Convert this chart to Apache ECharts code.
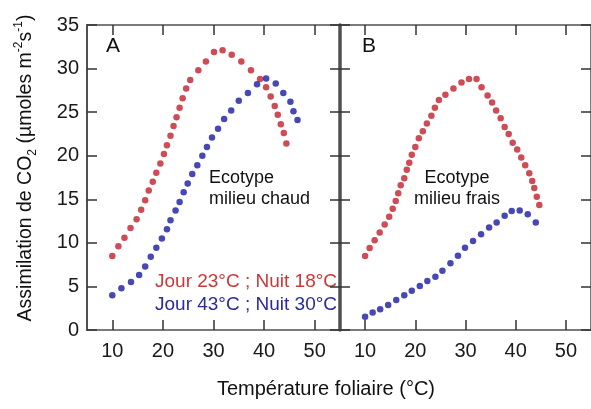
<!DOCTYPE html>
<html><head><meta charset="utf-8">
<script src="https://cdn.jsdelivr.net/npm/echarts@6/dist/echarts.min.js"></script>
<style>html,body{margin:0;padding:0;background:#fff}#c{width:591px;height:409px}</style>
</head><body><div id="c"></div>
<script>
// ---- data ----
const xTicks = [10, 20, 30, 40, 50];
const aRedT = [10.0,11.2,12.4,13.6,14.8,15.7,16.5,17.2,18.0,18.7,19.5,20.2,20.8,21.5,22.1,22.7,23.3,23.9,24.6,25.4,27.0,28.5,30.1,31.8,33.6,35.5,37.4,39.2,40.4,41.3,42.1,42.7,43.3,43.9,44.4];
const aRedV = [8.5,9.6,10.6,11.7,12.7,13.8,14.9,16.0,17.0,18.05,19.1,20.2,21.2,22.3,23.4,24.4,25.5,26.6,27.7,28.7,29.8,30.8,31.9,32.1,31.6,30.8,29.8,28.8,27.85,26.8,25.7,24.7,23.6,22.6,21.4];
const aBlueT = [10.0,11.8,13.7,15.3,16.5,17.6,18.7,19.8,20.8,21.5,22.5,23.3,24.1,24.9,25.8,26.8,27.8,28.7,29.7,30.9,32.1,33.5,35.0,36.8,38.6,40.4,42.3,43.8,45.2,45.8,46.6];
const aBlueV = [4.0,4.8,5.5,6.3,7.3,8.4,9.45,10.5,11.55,12.6,13.7,14.7,15.8,16.8,17.9,18.9,20.0,21.0,22.1,23.1,24.2,25.2,26.3,27.2,28.2,28.85,28.3,27.2,26.2,25.1,24.1];
const bRedT = [10.0,10.9,11.9,12.9,13.9,14.8,15.5,16.1,16.6,17.1,17.8,18.3,18.8,19.3,20.0,20.7,21.5,22.3,23.2,23.9,24.7,26.0,27.6,29.2,30.7,32.2,33.2,34.4,35.3,36.1,37.0,37.8,38.6,39.4,40.3,41.1,41.9,42.7,43.3,43.7,44.2,44.7];
const bRedV = [8.5,9.4,10.3,11.2,12.1,13.0,13.9,14.8,15.7,16.6,17.4,18.4,19.2,20.1,21.0,22.0,22.8,23.7,24.6,25.5,26.4,27.0,27.7,28.4,28.8,28.8,27.85,26.9,26.1,25.2,24.3,23.3,22.5,21.5,20.7,19.8,18.9,18.0,17.1,16.3,15.3,14.35];
const bBlueT = [10.0,11.5,13.0,14.6,16.2,17.8,19.3,20.9,22.4,24.0,25.4,27.0,28.5,29.9,31.5,33.1,34.7,36.2,37.8,39.2,40.8,42.4,44.0];
const bBlueV = [1.53,2.0,2.37,2.87,3.44,3.98,4.5,5.05,5.62,6.12,6.81,7.65,8.53,9.45,10.2,11.0,11.75,12.35,13.1,13.65,13.7,13.27,12.35];
const legendRed = 'Jour 23°C ; Nuit 18°C';
const legendBlue = 'Jour 43°C ; Nuit 30°C';
const xTitle = 'Température foliaire (°C)';

// ---- chart ----
const zip = (t, v) => t.map((x, i) => [x, v[i]]);
const FONT = '"Liberation Sans", Arial, sans-serif';
const RED = '#c21f2a', BLUE = '#1a1aa2';
const frame = '#505050';

function xAx(grid, pos, labels) {
  return {
    type: 'value', gridIndex: grid, position: pos, min: 5, max: 55,
    axisLine: { show: true, onZero: false, lineStyle: { color: frame, width: 1.5 } },
    axisTick: { show: true, inside: true, length: 10, customValues: xTicks, lineStyle: { color: '#333', width: 1.5 } },
    axisLabel: { show: labels, customValues: xTicks, margin: 11, fontSize: 20, color: '#1a1a1a', fontFamily: FONT },
    splitLine: { show: false }
  };
}
function yAx(grid, pos, labels, lineW, lineShow) {
  return {
    type: 'value', gridIndex: grid, position: pos, min: 0, max: 35, interval: 5,
    axisLine: { show: lineShow, onZero: false, lineStyle: { color: frame, width: lineW } },
    axisTick: { show: true, inside: true, length: 10, lineStyle: { color: '#333', width: 1.5 } },
    axisLabel: { show: labels, margin: 8, fontSize: 20, color: '#1a1a1a', fontFamily: FONT },
    splitLine: { show: false }
  };
}

const chart = echarts.init(document.getElementById('c'), null, { renderer: 'canvas' });
chart.setOption({
  animation: false,
  backgroundColor: '#fff',
  grid: [
    { left: 87, top: 25, width: 253, height: 305 },
    { left: 340, top: 25, width: 253, height: 305 }
  ],
  xAxis: [xAx(0, 'bottom', true), xAx(0, 'top', false), xAx(1, 'bottom', true), xAx(1, 'top', false)],
  yAxis: [yAx(0, 'left', true, 2, true), yAx(0, 'right', false, 1.5, false), yAx(1, 'left', false, 3.5, true), yAx(1, 'right', false, 1.5, true)],
  series: [
    { type: 'scatter', xAxisIndex: 0, yAxisIndex: 0, data: zip(aRedT, aRedV), symbolSize: 6.5, itemStyle: { color: RED } },
    { type: 'scatter', xAxisIndex: 0, yAxisIndex: 0, data: zip(aBlueT, aBlueV), symbolSize: 6.5, itemStyle: { color: BLUE } },
    { type: 'scatter', xAxisIndex: 2, yAxisIndex: 2, data: zip(bRedT, bRedV), symbolSize: 6.5, itemStyle: { color: RED } },
    { type: 'scatter', xAxisIndex: 2, yAxisIndex: 2, data: zip(bBlueT, bBlueV), symbolSize: 6.5, itemStyle: { color: BLUE } }
  ],
  graphic: [
    { type: 'text', style: { x: 113, y: 46, text: 'A', font: '21px ' + FONT, fill: '#111', textAlign: 'center', textVerticalAlign: 'middle' } },
    { type: 'text', style: { x: 369, y: 46, text: 'B', font: '21px ' + FONT, fill: '#111', textAlign: 'center', textVerticalAlign: 'middle' } },
    { type: 'text', style: { x: 209, y: 189, text: 'Ecotype\nmilieu chaud', font: '18px ' + FONT, lineHeight: 21, fill: '#111', textAlign: 'left', textVerticalAlign: 'middle' } },
    { type: 'text', style: { x: 457, y: 189, text: 'Ecotype\nmilieu frais', font: '18px ' + FONT, lineHeight: 21, fill: '#111', textAlign: 'center', textVerticalAlign: 'middle' } },
    { type: 'text', style: { x: 155, y: 282, text: legendRed, font: '19px ' + FONT, fill: '#cc3838', textAlign: 'left', textVerticalAlign: 'middle' } },
    { type: 'text', style: { x: 155, y: 305, text: legendBlue, font: '19px ' + FONT, fill: '#2a2a9e', textAlign: 'left', textVerticalAlign: 'middle' } },
    { type: 'text', style: { x: 326, y: 389, text: xTitle, font: '20px ' + FONT, fill: '#111', textAlign: 'center', textVerticalAlign: 'middle' } },
    { type: 'text', x: 26, y: 168, rotation: Math.PI / 2,
      style: { x: 0, y: 0, textAlign: 'center', textVerticalAlign: 'middle', fill: '#111',
        text: '{a|Assimilation de CO}{sub|2}{a| (µmoles m}{sup|-2}{a|s}{sup|-1}{a|)}',
        rich: {
          a: { fontSize: 19.5, fontFamily: FONT, lineHeight: 26, verticalAlign: 'middle', fill: '#111' },
          sub: { fontSize: 12, fontFamily: FONT, lineHeight: 26, verticalAlign: 'bottom', fill: '#111' },
          sup: { fontSize: 12, fontFamily: FONT, lineHeight: 26, verticalAlign: 'top', fill: '#111' }
        } } }
  ]
});
</script></body></html>
